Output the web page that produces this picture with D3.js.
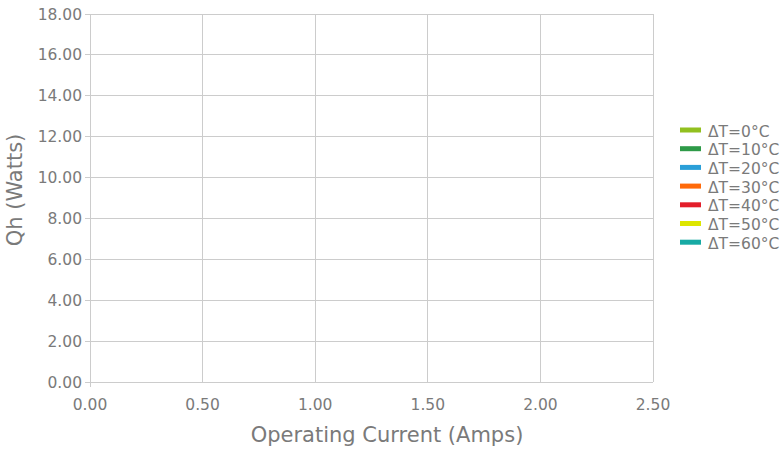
<!DOCTYPE html>
<html><head><meta charset="utf-8">
<script src="https://cdn.jsdelivr.net/npm/d3@7"></script>
<style>body{margin:0;background:#fff}svg{display:block;font-family:"DejaVu Sans",sans-serif}</style>
</head><body><svg id="c" width="783" height="452"></svg>
<script>
const xTicks = [0, 0.5, 1.0, 1.5, 2.0, 2.5];
const yTicks = [0, 2, 4, 6, 8, 10, 12, 14, 16, 18];
const seriesNames = ["ΔT=0°C","ΔT=10°C","ΔT=20°C","ΔT=30°C","ΔT=40°C","ΔT=50°C","ΔT=60°C"];
const seriesColors = ["#92c01f","#2e9a48","#2a9fd8","#ff6a0a","#e31e2a","#dde600","#17aaa4"];
// No data lines are visible in the reference chart
const dT0 = [], dT10 = [], dT20 = [], dT30 = [], dT40 = [], dT50 = [], dT60 = [];
const seriesValues = [dT0, dT10, dT20, dT30, dT40, dT50, dT60];

const svg = d3.select("#c");
const L = 90, R = 653, T = 14, B = 382;
const x = d3.scaleLinear().domain([0, 2.5]).range([L, R]);
const y = d3.scaleLinear().domain([0, 18]).range([B, T]);
const grid = "#cccccc", txt = "#7a7a7a";

// grid
svg.append("g").selectAll("line").data(yTicks).join("line")
  .attr("x1", L - 5).attr("x2", R).attr("y1", d => y(d)).attr("y2", d => y(d))
  .attr("stroke", grid).attr("stroke-width", 1).attr("shape-rendering", "crispEdges");
svg.append("g").selectAll("line").data(xTicks).join("line")
  .attr("x1", d => x(d)).attr("x2", d => x(d)).attr("y1", T).attr("y2", d => d === 0 ? B + 5 : B)
  .attr("stroke", grid).attr("stroke-width", 1).attr("shape-rendering", "crispEdges");

// tick labels
svg.append("g").selectAll("text").data(yTicks).join("text")
  .attr("x", L - 8).attr("y", d => y(d)).attr("dy", "0.36em").attr("text-anchor", "end")
  .attr("font-size", 15.5).attr("fill", txt).text(d => d3.format(".2f")(d));
svg.append("g").selectAll("text").data(xTicks).join("text")
  .attr("x", d => x(d)).attr("y", B + 28).attr("text-anchor", "middle")
  .attr("font-size", 15.5).attr("fill", txt).text(d => d3.format(".2f")(d));

// axis titles
svg.append("text").attr("x", 387).attr("y", 442).attr("text-anchor", "middle")
  .attr("font-size", 21).attr("fill", txt).text("Operating Current (Amps)");
svg.append("text").attr("transform", "translate(22,190) rotate(-90)")
  .attr("text-anchor", "middle").attr("font-size", 21).attr("fill", txt).text("Qh (Watts)");

// lines
const line = d3.line().x(d => x(d[0])).y(d => y(d[1]));
svg.append("g").selectAll("path").data(seriesValues).join("path")
  .attr("d", d => d.length ? line(d) : null).attr("fill", "none")
  .attr("stroke", (d, i) => seriesColors[i]).attr("stroke-width", 3);

// legend
const lg = svg.append("g").selectAll("g").data(seriesNames).join("g")
  .attr("transform", (d, i) => `translate(680,${130 + i * 18.7})`);
lg.append("rect").attr("x", 0).attr("y", -2.5).attr("width", 21).attr("height", 5)
  .attr("fill", (d, i) => seriesColors[i]);
lg.append("text").attr("x", 28).attr("y", 6.5)
  .attr("font-size", 15.5).attr("fill", txt).text(d => d);
</script></body></html>
